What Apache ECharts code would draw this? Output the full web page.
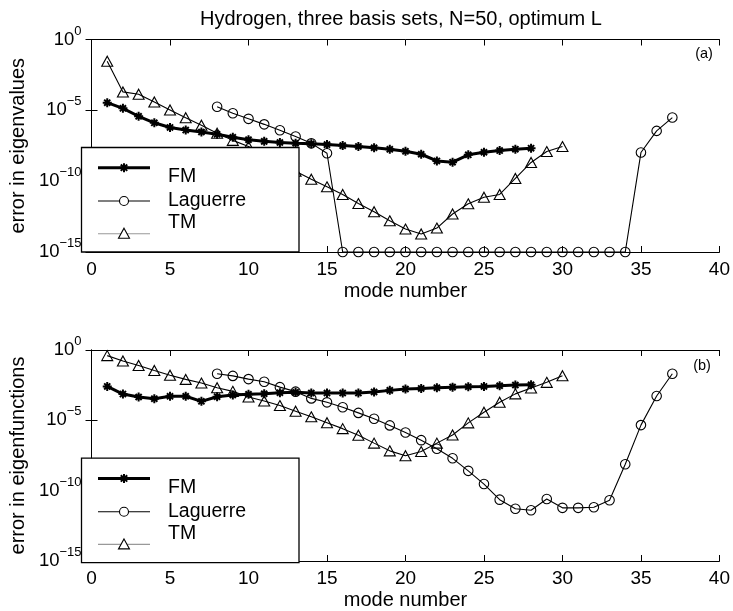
<!DOCTYPE html>
<html><head><meta charset="utf-8">
<script src="https://cdn.jsdelivr.net/npm/echarts@6/dist/echarts.min.js"></script>
<style>html,body{margin:0;padding:0;background:#fff}#c{width:733px;height:611px}</style>
</head><body><div id="c"></div>
<script>
// ---- data: values are log10(error) ----
const titleText = 'Hydrogen, three basis sets, N=50, optimum L';
const xTicks = [0, 5, 10, 15, 20, 25, 30, 35, 40];
const yTickExponents = [-15, -10, -5, 0];

// (a) error in eigenvalues
const fmEigModes = [1,2,3,4,5,6,7,8,9,10,11,12,13,14,15,16,17,18,19,20,21,22,23,24,25,26,27,28];
const fmEigLog10 = [-4.46,-4.86,-5.42,-5.88,-6.21,-6.39,-6.53,-6.69,-6.9,-7.07,-7.19,-7.27,-7.32,-7.36,-7.42,-7.49,-7.55,-7.64,-7.75,-7.89,-8.1,-8.57,-8.66,-8.14,-7.96,-7.84,-7.74,-7.67];
const lagEigModes = [8,9,10,11,12,13,14,15,16,17,18,19,20,21,22,23,24,25,26,27,28,29,30,31,32,33,34,35,36,37];
const lagEigLog10 = [-4.75,-5.21,-5.6,-5.99,-6.41,-6.85,-7.33,-8.03,-15,-15,-15,-15,-15,-15,-15,-15,-15,-15,-15,-15,-15,-15,-15,-15,-15,-15,-15,-7.98,-6.45,-5.51];
const tmEigModes = [1,2,3,4,5,6,7,8,9,10,11,12,13,14,15,16,17,18,19,20,21,22,23,24,25,26,27,28,29,30];
const tmEigLog10 = [-1.53,-3.7,-3.86,-4.41,-4.97,-5.52,-6.05,-6.62,-7.12,-7.55,-8.1,-8.7,-9.3,-9.86,-10.4,-10.94,-11.58,-12.16,-12.8,-13.38,-13.73,-13.31,-12.32,-11.6,-11.13,-10.94,-9.81,-8.68,-7.91,-7.56];

// (b) error in eigenfunctions
const fmFunModes = [1,2,3,4,5,6,7,8,9,10,11,12,13,14,15,16,17,18,19,20,21,22,23,24,25,26,27,28];
const fmFunLog10 = [-2.59,-3.13,-3.34,-3.46,-3.29,-3.29,-3.65,-3.32,-3.2,-3.15,-3.11,-3.04,-3.01,-3.06,-3.06,-3.06,-3.06,-2.98,-2.87,-2.78,-2.73,-2.68,-2.64,-2.61,-2.59,-2.54,-2.49,-2.47];
const lagFunModes = [8,9,10,11,12,13,14,15,16,17,18,19,20,21,22,23,24,25,26,27,28,29,30,31,32,33,34,35,36,37];
const lagFunLog10 = [-1.69,-1.84,-2.07,-2.26,-2.64,-2.96,-3.44,-3.72,-4.07,-4.47,-4.89,-5.36,-5.87,-6.41,-7.02,-7.7,-8.59,-9.53,-10.64,-11.29,-11.39,-10.59,-11.22,-11.22,-11.18,-10.68,-8.12,-5.34,-3.27,-1.69];
const tmFunModes = [1,2,3,4,5,6,7,8,9,10,11,12,13,14,15,16,17,18,19,20,21,22,23,24,25,26,27,28,29,30];
const tmFunLog10 = [-0.4,-0.78,-1.1,-1.46,-1.79,-2.09,-2.35,-2.68,-2.94,-3.34,-3.62,-3.95,-4.35,-4.75,-5.17,-5.59,-6.06,-6.62,-7.17,-7.52,-7.22,-6.62,-6.04,-5.18,-4.42,-3.71,-3.12,-2.7,-2.3,-1.83];

const seriesNames = ['FM', 'Laguerre', 'TM'];
const panelLabels = ['(a)', '(b)'];
const yNames = ['error in eigenvalues', 'error in eigenfunctions'];
const xName = 'mode number';

// ---- chart ----
const FONT = 'Liberation Sans, Arial, Helvetica, sans-serif';
const pairs = (xs, es) => xs.map((x, i) => [x, Math.pow(10, es[i])]);
const FM_PATH = 'path://M5,0L5,10M0,5L10,5M1.6,1.6L8.4,8.4M8.4,1.6L1.6,8.4';

const grids = [
  { left: 81, right: 13, top: 39.5, height: 212.5 },
  { left: 81, right: 13, top: 350, height: 212.7 }
];

const xAxes = [], yAxes = [];
grids.forEach((g, gi) => {
  const tick = { show: true, inside: true, length: 6, lineStyle: { color: '#000', width: 1 } };
  const line = { show: true, lineStyle: { color: '#000', width: 1 } };
  xAxes.push({
    gridIndex: gi, type: 'value', min: xTicks[0], max: xTicks[xTicks.length - 1], interval: 5,
    axisLine: line, axisTick: tick, splitLine: { show: false },
    axisLabel: { margin: 8, fontSize: 19, color: '#000', fontFamily: FONT },
    name: xName, nameLocation: 'middle', nameGap: 29,
    nameTextStyle: { fontSize: 20, color: '#000', fontFamily: FONT }
  });
  xAxes.push({
    gridIndex: gi, type: 'value', position: 'top', min: xTicks[0], max: xTicks[xTicks.length - 1], interval: 5,
    axisLine: line, axisTick: tick, splitLine: { show: false }, axisLabel: { show: false }
  });
  yAxes.push({
    gridIndex: gi, type: 'log', logBase: 10,
    min: Math.pow(10, yTickExponents[0]), max: Math.pow(10, yTickExponents[yTickExponents.length - 1]), interval: 5,
    axisLine: line, axisTick: tick, splitLine: { show: false }, minorTick: { show: false },
    axisLabel: {
      margin: 10, color: '#000', fontFamily: FONT,
      formatter: v => {
        const e = Math.round(Math.log10(v));
        return '{b|10}{s|' + (e === 0 ? '0' : '\u2212' + (-e)) + '}';
      },
      rich: {
        b: { fontSize: 18.5, lineHeight: 30, fontFamily: FONT, color: '#000' },
        s: { fontSize: 13, lineHeight: 12, verticalAlign: 'top', fontFamily: FONT, color: '#000' }
      }
    },
    name: yNames[gi], nameLocation: 'middle', nameGap: 50,
    nameTextStyle: { fontSize: 20, color: '#000', fontFamily: FONT }
  });
  yAxes.push({
    gridIndex: gi, type: 'log', logBase: 10, position: 'right',
    min: Math.pow(10, yTickExponents[0]), max: Math.pow(10, yTickExponents[yTickExponents.length - 1]), interval: 5,
    axisLine: line, axisTick: tick, splitLine: { show: false }, axisLabel: { show: false }
  });
});

function mk(name, gi, data, kind) {
  const base = {
    name, type: 'line', xAxisIndex: gi * 2, yAxisIndex: gi * 2, data,
    showAllSymbol: true, silent: true, z: kind === 'FM' ? 3 : 2
  };
  if (kind === 'FM') {
    return Object.assign(base, {
      symbol: FM_PATH, symbolSize: 9,
      itemStyle: { color: '#000', borderColor: '#000', borderWidth: 2 },
      lineStyle: { color: '#000', width: 3 }
    });
  }
  if (kind === 'Laguerre') {
    return Object.assign(base, {
      symbol: 'circle', symbolSize: 9.5,
      itemStyle: { color: 'rgba(0,0,0,0)', borderColor: '#000', borderWidth: 1.1 },
      lineStyle: { color: '#000', width: 1.1 }
    });
  }
  return Object.assign(base, {
    symbol: 'triangle', symbolSize: [11, 10],
    itemStyle: { color: 'rgba(0,0,0,0)', borderColor: '#000', borderWidth: 1.1 },
    lineStyle: { color: '#000', width: 1.1 }
  });
}

const series = [
  mk(seriesNames[0], 0, pairs(fmEigModes, fmEigLog10), 'FM'),
  mk(seriesNames[1], 0, pairs(lagEigModes, lagEigLog10), 'Laguerre'),
  mk(seriesNames[2], 0, pairs(tmEigModes, tmEigLog10), 'TM'),
  mk(seriesNames[0], 1, pairs(fmFunModes, fmFunLog10), 'FM'),
  mk(seriesNames[1], 1, pairs(lagFunModes, lagFunLog10), 'Laguerre'),
  mk(seriesNames[2], 1, pairs(tmFunModes, tmFunLog10), 'TM')
];

// legend boxes (MATLAB-style, drawn as graphics)
function legendGraphics(dy) {
  const Z = 100;
  const els = [];
  els.push({ type: 'rect', z: Z, shape: { x: 81.5, y: 147.5 + dy, width: 217.5, height: 104.5 },
    style: { fill: '#fff', stroke: '#000', lineWidth: 1.3 } });
  const rows = [
    { ly: 167.7, ty: 177, name: seriesNames[0] },
    { ly: 201, ty: 201, name: seriesNames[1] },
    { ly: 233.7, ty: 223, name: seriesNames[2] }
  ];
  const seg = (x1, y1, x2, y2, w, c) => ({ type: 'line', z: Z + 2, shape: { x1, y1, x2, y2 }, style: { stroke: c || '#000', lineWidth: w } });
  // FM
  const fy = rows[0].ly + dy;
  els.push(seg(98, fy, 150, fy, 3));
  els.push(seg(124, fy - 4.5, 124, fy + 4.5, 2));
  els.push(seg(119.5, fy, 128.5, fy, 2));
  els.push(seg(120.8, fy - 3.2, 127.2, fy + 3.2, 2));
  els.push(seg(127.2, fy - 3.2, 120.8, fy + 3.2, 2));
  // Laguerre
  const ly = rows[1].ly + dy;
  els.push(seg(98, ly, 150, ly, 1.1));
  els.push({ type: 'circle', z: Z + 3, shape: { cx: 124, cy: ly, r: 4.5 },
    style: { stroke: '#000', lineWidth: 1.1, fill: '#fff' } });
  // TM
  const ty = rows[2].ly + dy;
  els.push(seg(98, ty, 150, ty, 1.1, '#999'));
  els.push({ type: 'polygon', z: Z + 3, shape: { points: [[124, ty - 5.5], [129.5, ty + 4.5], [118.5, ty + 4.5]] },
    style: { stroke: '#000', lineWidth: 1.1, fill: '#fff' } });
  rows.forEach(r => {
    els.push({ type: 'text', z: Z + 2, x: 168, y: r.ty + dy,
      style: { text: r.name, fontSize: 19.5, fontFamily: FONT, fill: '#000', verticalAlign: 'middle' } });
  });
  return els;
}

const graphics = [].concat(
  legendGraphics(0),
  legendGraphics(310.7),
  [
    { type: 'text', z: 100, x: 704, y: 54, style: { text: panelLabels[0], fontSize: 14.5, fontFamily: FONT, fill: '#000', align: 'center', verticalAlign: 'middle' } },
    { type: 'text', z: 100, x: 702, y: 366, style: { text: panelLabels[1], fontSize: 14.5, fontFamily: FONT, fill: '#000', align: 'center', verticalAlign: 'middle' } }
  ]
);

const chart = echarts.init(document.getElementById('c'), null, { renderer: 'canvas' });
chart.setOption({
  animation: false,
  backgroundColor: '#fff',
  title: { text: titleText, left: 200, top: 9, padding: 0,
    textStyle: { fontSize: 20, fontWeight: 'normal', color: '#000', fontFamily: FONT } },
  grid: grids,
  xAxis: xAxes,
  yAxis: yAxes,
  series: series,
  graphic: graphics
});
</script>
</body></html>
